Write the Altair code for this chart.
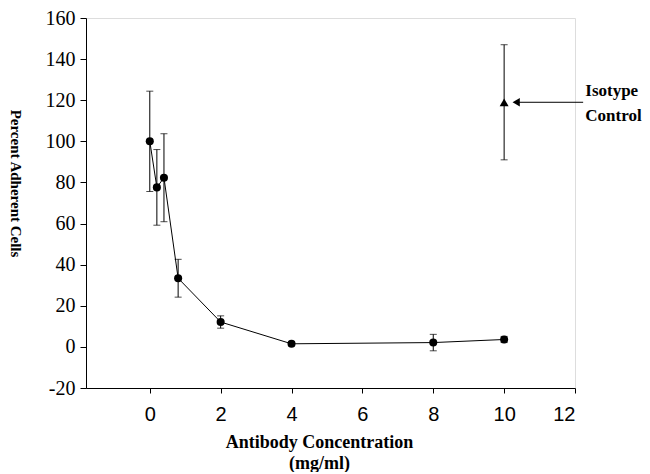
import altair as alt
import pandas as pd

# Antibody dose-response data
conc = [0, 0.2, 0.4, 0.8, 2, 4, 8, 10]
pct = [100, 77.6, 82.3, 33.4, 12.1, 1.5, 2.1, 3.6]
err = [24.4, 18.4, 21.4, 9.2, 3.0, 1.0, 4.0, 1.5]

# Isotype control
iso_conc = [10]
iso_pct = [119]
iso_err = [28]

df = pd.DataFrame({"x": conc, "y": pct, "e": err})
df["lo"] = df["y"] - df["e"]
df["hi"] = df["y"] + df["e"]
iso = pd.DataFrame({"x": iso_conc, "y": iso_pct, "e": iso_err})
iso["lo"] = iso["y"] - iso["e"]
iso["hi"] = iso["y"] + iso["e"]

xscale = alt.Scale(domain=[-1.8, 12], nice=False, zero=False)
yscale = alt.Scale(domain=[-20, 160], nice=False, zero=False)

xaxis = alt.Axis(
    values=[0, 2, 4, 6, 8, 10, 12], grid=False, domainColor="black", tickColor="black",
    tickSize=5, labelFont="Liberation Sans", labelFontSize=20, labelColor="black",
    labelPadding=11, labelExpr="datum.value",
    title=["Antibody Concentration", "(mg/ml)"], titleFont="Liberation Serif",
    titleFontSize=18, titleFontWeight="bold", titleColor="black",
    titleX=233, titleY=45, titleAnchor="start", titleAlign="center", titleBaseline="top",
    titleLineHeight=21,
)
yaxis = alt.Axis(
    values=list(range(-20, 161, 20)), grid=False, domainColor="black", tickColor="black",
    tickSize=6, labelFont="Liberation Serif", labelFontSize=20, labelColor="black",
    labelPadding=5, labelExpr="datum.value",
    title="Percent Adherent Cells", titleFont="Liberation Serif", titleFontSize=15,
    titleFontWeight="bold", titleColor="black", titleAngle=90,
    titleX=-71, titleY=165, titleAlign="center", titleBaseline="middle", titleAnchor="start",
)

base = alt.Chart(df)
x = alt.X("x:Q", scale=xscale, axis=xaxis)
y = alt.Y("y:Q", scale=yscale, axis=yaxis)

line = base.mark_line(color="black", strokeWidth=1).encode(x=x, y=y)
bars = base.mark_rule(color="black", strokeWidth=1).encode(
    x=alt.X("x:Q", scale=xscale), y=alt.Y("lo:Q", scale=yscale), y2="hi:Q")
cap_lo = base.mark_tick(color="black", orient="horizontal", size=7, thickness=1).encode(
    x=alt.X("x:Q", scale=xscale), y=alt.Y("lo:Q", scale=yscale))
cap_hi = base.mark_tick(color="black", orient="horizontal", size=7, thickness=1).encode(
    x=alt.X("x:Q", scale=xscale), y=alt.Y("hi:Q", scale=yscale))
pts = base.mark_point(filled=True, shape="circle", size=65, color="black", opacity=1).encode(x=x, y=y)

ib = alt.Chart(iso)
iso_bar = ib.mark_rule(color="black", strokeWidth=1).encode(
    x=alt.X("x:Q", scale=xscale), y=alt.Y("lo:Q", scale=yscale), y2="hi:Q")
iso_lo = ib.mark_tick(color="black", orient="horizontal", size=7, thickness=1).encode(
    x=alt.X("x:Q", scale=xscale), y=alt.Y("lo:Q", scale=yscale))
iso_hi = ib.mark_tick(color="black", orient="horizontal", size=7, thickness=1).encode(
    x=alt.X("x:Q", scale=xscale), y=alt.Y("hi:Q", scale=yscale))
iso_pt = ib.mark_point(filled=True, shape="triangle-up", size=80, color="black", opacity=1).encode(
    x=alt.X("x:Q", scale=xscale), y=alt.Y("y:Q", scale=yscale))

# annotation arrow and label
arrow_df = pd.DataFrame({"x1": [10.34], "x2": [12.23], "y": [119]})
arrow_line = alt.Chart(arrow_df).mark_rule(color="black", strokeWidth=1).encode(
    x=alt.X("x1:Q", scale=xscale), x2="x2:Q", y=alt.Y("y:Q", scale=yscale))
arrow_head = alt.Chart(arrow_df).mark_point(
    filled=True, shape="triangle-left", size=70, color="black", opacity=1).encode(
    x=alt.X("x1:Q", scale=xscale), y=alt.Y("y:Q", scale=yscale))

label_df = pd.DataFrame({"x": [12.29, 12.29], "y": [124.7, 112.1], "t": ["Isotype", "Control"]})
labels = alt.Chart(label_df).mark_text(
    align="left", baseline="middle", font="Liberation Serif", fontSize=17,
    fontWeight="bold", color="black").encode(
    x=alt.X("x:Q", scale=xscale), y=alt.Y("y:Q", scale=yscale), text="t:N")

chart = alt.layer(
    line, bars, cap_lo, cap_hi, pts, iso_bar, iso_lo, iso_hi, iso_pt,
    arrow_line, arrow_head, labels
).properties(
    width=489, height=370,
    autosize=alt.AutoSizeParams(type="none"),
    padding={"left": 78, "top": 10, "right": 67, "bottom": 84},
).configure_view(stroke="black", strokeWidth=1).configure(background="white")

chart.save("out.html", embed_options={"renderer": "svg", "actions": False})
